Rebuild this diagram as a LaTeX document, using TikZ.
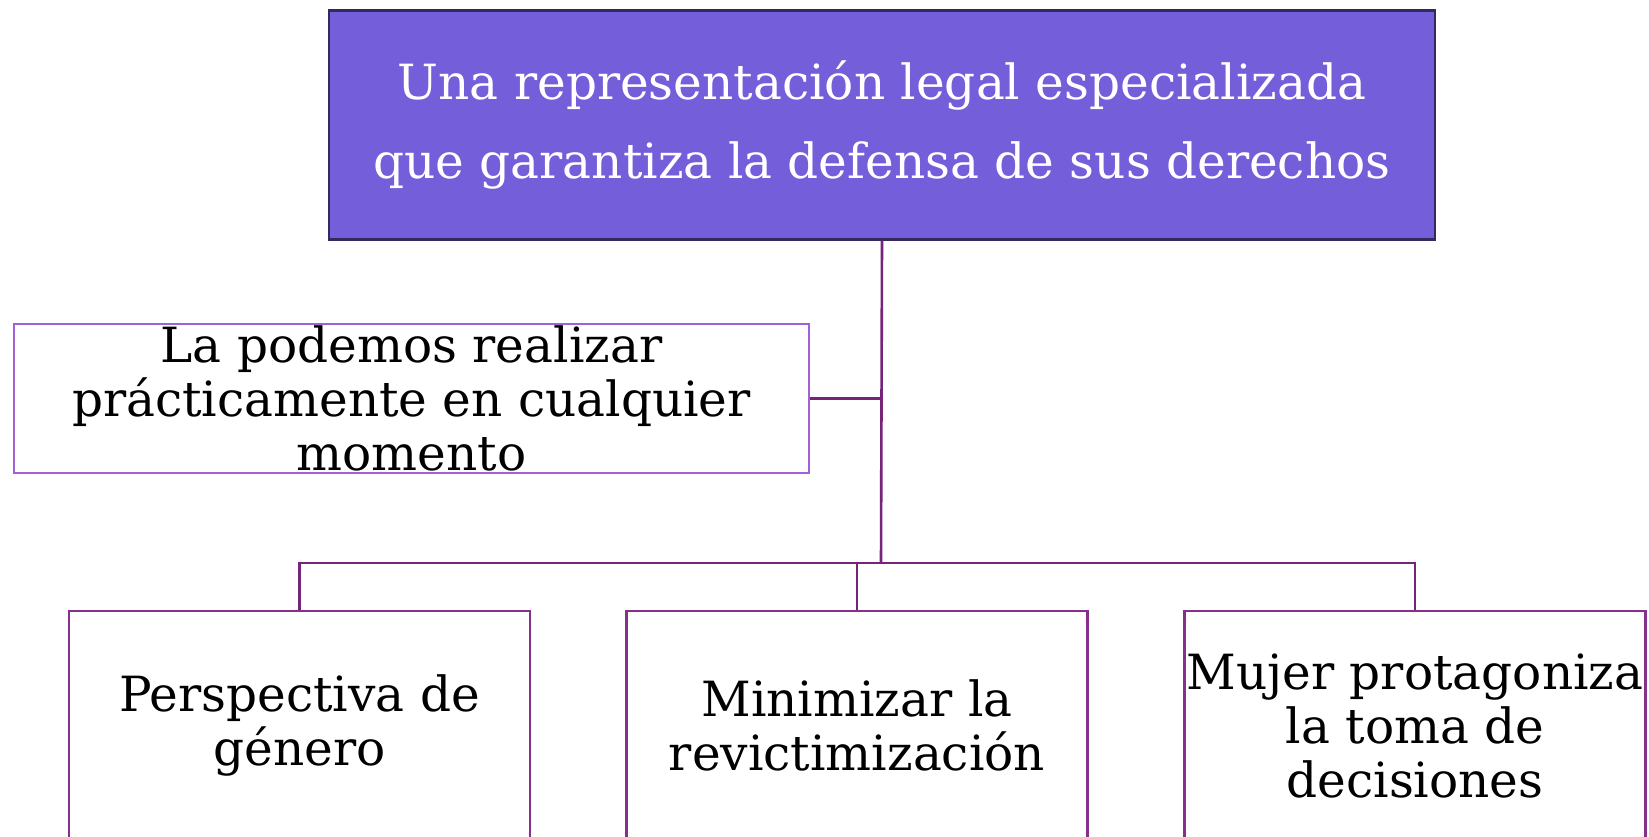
\documentclass[tikz,border=0pt]{standalone}
\usepackage{fontspec}
\setmainfont{DejaVu Serif}
\definecolor{topfill}{HTML}{745ED9}
\definecolor{topline}{HTML}{33295F}
\definecolor{leftline}{HTML}{A25FD6}
\definecolor{boxline}{HTML}{85308A}
\definecolor{conn}{HTML}{76237A}
\begin{document}
\begin{tikzpicture}[x=1pt,y=-1pt,
  txt/.style={font=\fontsize{48.5}{54}\selectfont, align=center, inner sep=0pt},
  topbox/.style={txt, draw=topline, fill=topfill, text=white, line width=2.2pt,
    minimum width=1106pt, minimum height=229pt, font=\fontsize{48.5}{79}\selectfont},
  sidebox/.style={txt, draw=leftline, line width=2.2pt, minimum width=795pt, minimum height=149pt},
  lowbox/.style={txt, draw=boxline, line width=2.2pt, minimum width=461pt, minimum height=229pt},
  link/.style={draw=conn, line width=2.6pt}]
\useasboundingbox (0,0) rectangle (1649,837);
\clip (0,0) rectangle (1649,837);
\fill[white] (0,0) rectangle (1649,837);
\node[topbox] (top) at (882,125) {Una representación legal especializada\\que garantiza la defensa de sus derechos};
\node[sidebox] (left) at (411.5,398.5) {La podemos realizar\\prácticamente en cualquier\\momento};
\node[lowbox] (b1) at (299.5,725.5) {Perspectiva de\\género};
\node[lowbox] (b2) at (857,725.5) {Minimizar la\\revictimización};
\node[lowbox] (b3) at (1415,725.5) {Mujer protagoniza\\la toma de\\decisiones};
\coordinate (junc) at (881,563);
\draw[link] (top.south) -- (junc);
\draw[link] (left.east) -- (left.east -| top.south);
\draw[link] (b1.north) |- (junc);
\draw[link] (junc) -| (b3.north);
\draw[link] (b2.north) -- (b2.north |- junc);
\end{tikzpicture}
\end{document}
